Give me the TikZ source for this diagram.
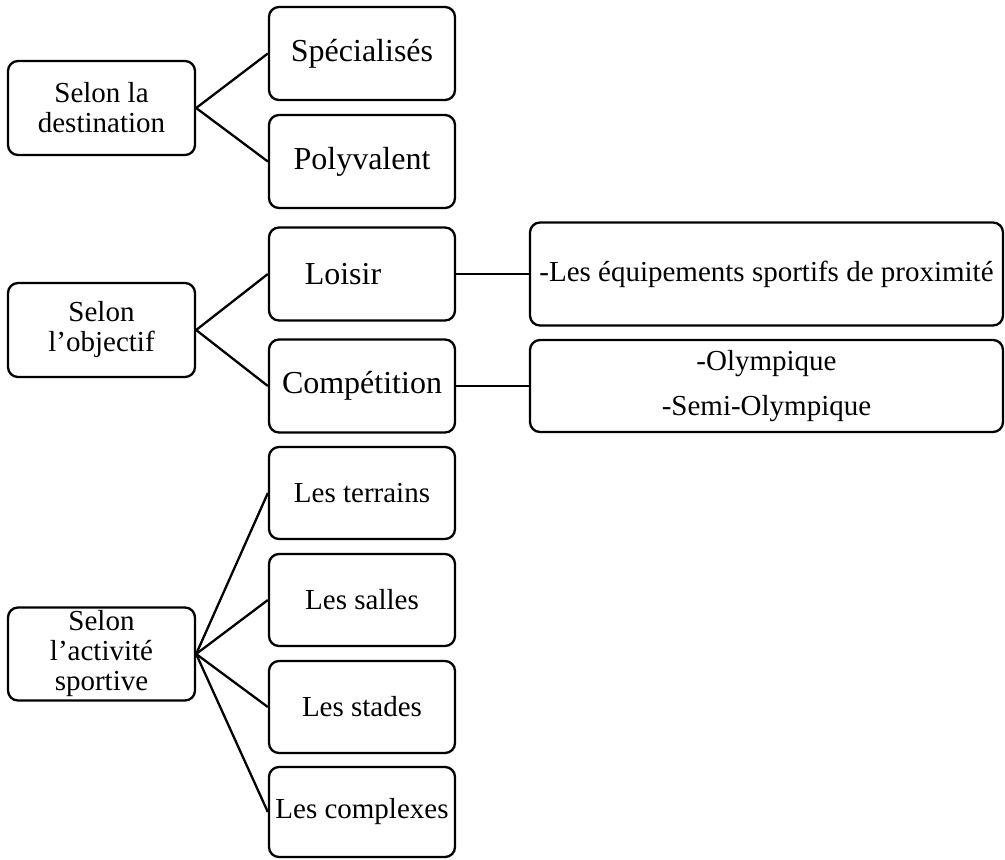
\documentclass[tikz,border=0pt]{standalone}
\usepackage{fontspec}
\setmainfont{Liberation Serif}
\begin{document}
\begin{tikzpicture}[x=1pt,y=-1pt,
  box/.style={draw, line width=2.3pt, rounded corners=10pt, inner sep=0pt, align=center,
    font=\fontsize{29}{30}\selectfont},
  smallbox/.style={box, minimum width=186pt, minimum height=93pt},
  bigfont/.style={font=\fontsize{32}{33}\selectfont},
  link/.style={line width=2.3pt}]
\useasboundingbox (0,0) rectangle (1005,860);
% column 1
\node[smallbox, minimum width=187pt, minimum height=94pt] (dest) at (101.5,108) {Selon la\\destination};
\node[smallbox, minimum width=187pt, minimum height=94pt] (obj) at (101.5,330) {Selon\\l’objectif};
\node[smallbox, minimum width=187pt, minimum height=93pt] (act) at (101.5,654) {Selon\\l’activité\\sportive};
% column 2
\node[smallbox, bigfont] (spec) at (362,53.5) {Spécialisés};
\node[smallbox, bigfont] (poly) at (362,161.5) {Polyvalent};
\node[smallbox, bigfont] (lois) at (362,274) {Loisir\hspace*{38pt}};
\node[smallbox, bigfont] (comp) at (362,386) {Compétition};
\node[smallbox, minimum height=92pt] (terr) at (362,493) {Les terrains};
\node[smallbox, minimum height=92pt] (sall) at (362,600) {Les salles};
\node[smallbox, minimum height=92pt] (stad) at (362,707) {Les stades};
\node[smallbox, minimum height=90pt] (cplx) at (362,812) {Les complexes};
% column 3
\node[box, minimum width=473pt, minimum height=103pt] (equi) at (766.5,274) {-Les équipements sportifs de proximité};
\node[box, minimum width=473pt, minimum height=92pt, font=\fontsize{29}{45}\selectfont] (olym) at (766.5,386) {-Olympique\\-Semi-Olympique};
% connectors
\draw[link] (dest.east) -- (spec.west);
\draw[link] (dest.east) -- (poly.west);
\draw[link] (obj.east) -- (lois.west);
\draw[link] (obj.east) -- (comp.west);
\draw[link] (lois.east) -- (equi.west);
\draw[link] (comp.east) -- (olym.west);
\draw[link] (act.east) -- (terr.west);
\draw[link] (act.east) -- (sall.west);
\draw[link] (act.east) -- (stad.west);
\draw[link] (act.east) -- (cplx.west);
\end{tikzpicture}
\end{document}
